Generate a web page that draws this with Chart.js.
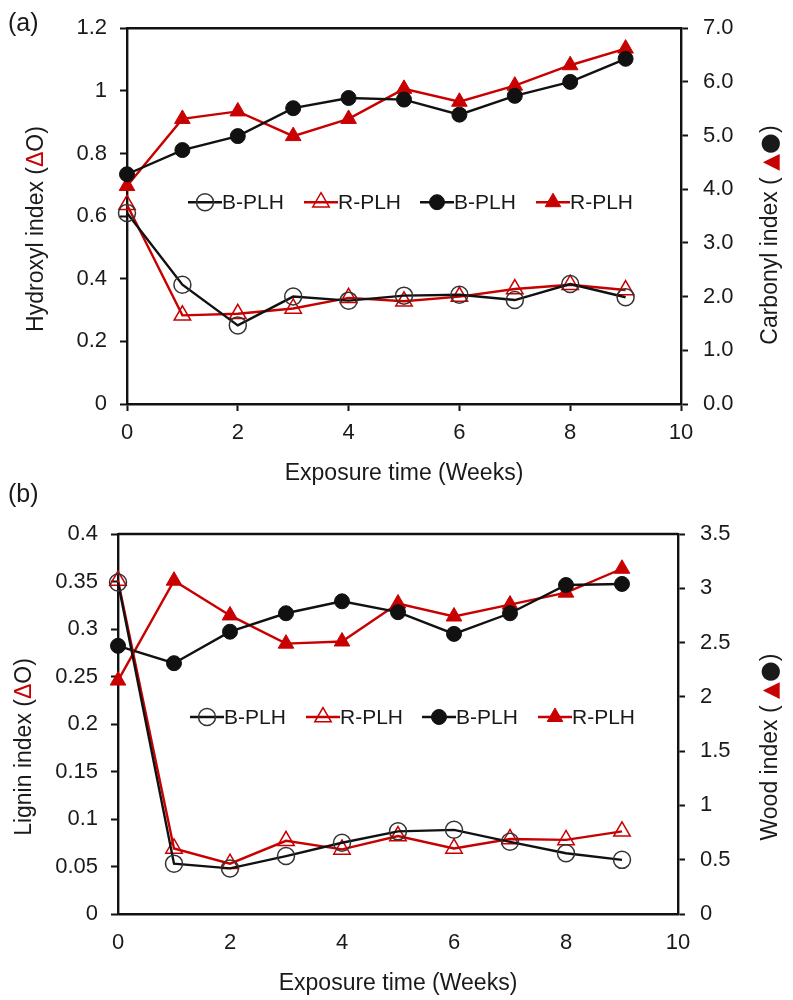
<!DOCTYPE html>
<html>
<head>
<meta charset="utf-8">
<script src="https://cdn.jsdelivr.net/npm/chart.js@4.4.1/dist/chart.umd.min.js"></script>
<style>
    body { margin: 0; background: #fff; width: 793px; height: 1000px; position: relative; overflow: hidden;
           font-family: "Liberation Sans", Arial, sans-serif; }
    .panel { position: absolute; left: 0; width: 793px; }
    .tag { position: absolute; left: 8px; font-size: 25px; line-height: 1; color: #1a1a1a; }
</style>
</head>
<body>
<div class="panel" style="top:0;height:490px"><canvas id="chart-a" width="793" height="490"></canvas></div>
<div class="panel" style="top:490px;height:510px"><canvas id="chart-b" width="793" height="510"></canvas></div>
<div class="tag" style="top:10px">(a)</div>
<div class="tag" style="top:481px">(b)</div>

<script>
// =============================
// DATA
// =============================
const weeks = [0, 1, 2, 3, 4, 5, 6, 7, 8, 9];
const weekTicks = ['0', '2', '4', '6', '8', '10'];

// panel (a)
const hydroxylB = [0.61, 0.381, 0.251, 0.343, 0.330, 0.346, 0.349, 0.332, 0.383, 0.341];
const hydroxylR = [0.636, 0.283, 0.288, 0.305, 0.339, 0.328, 0.343, 0.367, 0.381, 0.364];
const carbonylB = [4.28, 4.73, 4.99, 5.51, 5.70, 5.67, 5.39, 5.74, 6.00, 6.43];
const carbonylR = [4.06, 5.31, 5.45, 4.99, 5.31, 5.87, 5.63, 5.93, 6.31, 6.62];
const hydroxylTicks = ['0', '0.2', '0.4', '0.6', '0.8', '1', '1.2'];
const carbonylTicks = ['0.0', '1.0', '2.0', '3.0', '4.0', '5.0', '6.0', '7.0'];

// panel (b)
const ligninB = [0.349, 0.053, 0.048, 0.061, 0.075, 0.087, 0.0886, 0.076, 0.064, 0.057];
const ligninR = [0.351, 0.069, 0.053, 0.077, 0.068, 0.082, 0.069, 0.079, 0.078, 0.087];
const woodB = [2.47, 2.31, 2.60, 2.77, 2.88, 2.78, 2.58, 2.77, 3.03, 3.04];
const woodR = [2.15, 3.07, 2.75, 2.49, 2.51, 2.86, 2.74, 2.85, 2.96, 3.18];
const ligninTicks = ['0', '0.05', '0.1', '0.15', '0.2', '0.25', '0.3', '0.35', '0.4'];
const woodTicks = ['0', '0.5', '1', '1.5', '2', '2.5', '3', '3.5'];

const seriesLabels = ['B-PLH', 'R-PLH', 'B-PLH', 'R-PLH'];

const RED = '#c80000';
const BLACK = '#111';
const TEXT = '#1a1a1a';
const FONT = '"Liberation Sans", Arial, sans-serif';
const SYMBOL_FONT = '"DejaVu Sans", sans-serif';

Chart.defaults.font.family = FONT;

function pts(values) {
    return weeks.map((w, i) => ({ x: w, y: values[i] }));
}

function series(label, values, axis, color, style, filled, radius, markerColor) {
    return {
        label: label,
        data: pts(values),
        yAxisID: axis,
        borderColor: color,
        borderWidth: 2.4,
        pointStyle: style,
        pointRadius: radius,
        pointBorderColor: markerColor || color,
        pointBackgroundColor: filled ? color : 'rgba(0,0,0,0)',
        pointBorderWidth: filled ? 1 : 1.5,
        tension: 0,
        fill: false,
        clip: false
    };
}

function yScale(labels, position, width, padding) {
    return {
        type: 'linear',
        position: position,
        min: parseFloat(labels[0]),
        max: parseFloat(labels[labels.length - 1]),
        afterBuildTicks: s => { s.ticks = labels.map(l => ({ value: parseFloat(l) })); },
        afterFit: s => { s.width = width; },
        border: { display: true, color: BLACK, width: 2.4 },
        grid: { drawOnChartArea: false, drawTicks: true, tickLength: 7, tickWidth: 2, tickColor: BLACK },
        ticks: { color: TEXT, font: { size: 22 }, padding: padding, callback: (v, i) => labels[i] }
    };
}

function xScale(height, showTicks) {
    return {
        type: 'linear',
        position: 'bottom',
        min: 0,
        max: 10,
        afterBuildTicks: s => { s.ticks = weekTicks.map(l => ({ value: parseFloat(l) })); },
        afterFit: s => { s.height = height; },
        border: { display: true, color: BLACK, width: 2.4 },
        grid: { drawOnChartArea: false, drawTicks: true, tickLength: 7, tickWidth: 2,
                tickColor: showTicks ? BLACK : 'rgba(0,0,0,0)' },
        ticks: { color: TEXT, font: { size: 22 }, padding: 9, maxRotation: 0, callback: (v, i) => weekTicks[i] },
        title: { display: true, text: 'Exposure time (Weeks)', color: TEXT, font: { size: 23 }, padding: { top: 0, bottom: 3 } }
    };
}

// top frame line, multi-coloured y titles and the in-plot legend
function drawMarker(ctx, ds, x, y) {
    const r = ds.pointRadius;
    ctx.lineWidth = ds.pointBorderWidth;
    ctx.strokeStyle = ds.pointBorderColor;
    ctx.fillStyle = ds.pointBackgroundColor;
    ctx.beginPath();
    if (ds.pointStyle === 'triangle') {
        for (let k = 0; k < 3; k++) {
            const a = k * 2 * Math.PI / 3;
            const px = x + Math.sin(a) * r, py = y - Math.cos(a) * r;
            k === 0 ? ctx.moveTo(px, py) : ctx.lineTo(px, py);
        }
        ctx.closePath();
    } else {
        ctx.arc(x, y, r, 0, Math.PI * 2);
    }
    ctx.fill();
    ctx.stroke();
}

function drawRotated(ctx, parts, cx, cy) {
    ctx.save();
    ctx.translate(cx, cy);
    ctx.rotate(-Math.PI / 2);
    ctx.textBaseline = 'middle';
    ctx.textAlign = 'left';
    const fontOf = p => p[2] ? p[2] + 'px ' + SYMBOL_FONT : '23px ' + FONT;
    let total = 0;
    parts.forEach(p => { ctx.font = fontOf(p); total += ctx.measureText(p[0]).width; });
    let x = -total / 2;
    parts.forEach(p => {
        ctx.font = fontOf(p);
        ctx.fillStyle = p[1];
        ctx.fillText(p[0], x, 0);
        x += ctx.measureText(p[0]).width;
    });
    ctx.restore();
}

const decorPlugin = {
    id: 'decor',
    afterDraw(chart, args, opts) {
        const ctx = chart.ctx;
        const a = chart.chartArea;
        ctx.save();
        ctx.strokeStyle = BLACK;
        ctx.lineWidth = 2.4;
        ctx.beginPath();
        ctx.moveTo(a.left, a.top);
        ctx.lineTo(a.right, a.top);
        ctx.stroke();

        opts.titles.forEach(t => drawRotated(ctx, t.parts, t.x, t.y));

        const lg = opts.legend;
        chart.data.datasets.forEach((ds, i) => {
            const x0 = a.left + lg.left + i * lg.pitch;
            const y = a.top + lg.top;
            ctx.strokeStyle = ds.borderColor;
            ctx.lineWidth = ds.borderWidth;
            ctx.beginPath();
            ctx.moveTo(x0, y);
            ctx.lineTo(x0 + 34, y);
            ctx.stroke();
            drawMarker(ctx, ds, x0 + 17, y);
            ctx.fillStyle = TEXT;
            ctx.font = '21px ' + FONT;
            ctx.textBaseline = 'middle';
            ctx.textAlign = 'left';
            ctx.fillText(ds.label, x0 + 34, y + 1);
        });
        ctx.restore();
    }
};

function makeChart(id, cfg) {
    const ctx = document.getElementById(id).getContext('2d');
    return new Chart(ctx, {
        type: 'line',
        data: {
            datasets: [
                series(seriesLabels[0], cfg.leftB, 'y', BLACK, 'circle', false, 8.5, '#333'),
                series(seriesLabels[1], cfg.leftR, 'y', RED, 'triangle', false, 9.5),
                series(seriesLabels[2], cfg.rightB, 'y1', BLACK, 'circle', true, 7.5),
                series(seriesLabels[3], cfg.rightR, 'y1', RED, 'triangle', true, 9)
            ]
        },
        options: {
            responsive: false,
            animation: false,
            events: [],
            layout: { padding: { top: cfg.top, left: 0, right: 0, bottom: 0 } },
            scales: {
                x: xScale(cfg.xHeight, cfg.xTicks),
                y: yScale(cfg.leftTicks, 'left', cfg.leftW, 13),
                y1: yScale(cfg.rightTicks, 'right', cfg.rightW, 15)
            },
            plugins: {
                legend: { display: false },
                tooltip: { enabled: false },
                decor: { titles: cfg.titles, legend: cfg.legend }
            }
        },
        plugins: [decorPlugin]
    });
}

makeChart('chart-a', {
    leftB: hydroxylB, leftR: hydroxylR, rightB: carbonylB, rightR: carbonylR,
    leftTicks: hydroxylTicks, rightTicks: carbonylTicks,
    top: 26, xHeight: 86, leftW: 127, rightW: 112, xTicks: true,
    titles: [
        { x: 37, y: 229, parts: [['Hydroxyl index (', TEXT], ['\u0394', RED], ['O', TEXT], [')', TEXT]] },
        { x: 771, y: 235, parts: [['Carbonyl index ( ', TEXT], ['\u25B2', RED, 22], ['\u25CF', TEXT, 24], [')', TEXT]] }
    ],
    legend: { left: 61, top: 174, pitch: 116 }
});

makeChart('chart-b', {
    leftB: ligninB, leftR: ligninR, rightB: woodB, rightR: woodR,
    leftTicks: ligninTicks, rightTicks: woodTicks,
    top: 44, xHeight: 86, leftW: 118, rightW: 115, xTicks: false,
    titles: [
        { x: 25, y: 257, parts: [['Lignin index (', TEXT], ['\u0394', RED], ['O', TEXT], [')', TEXT]] },
        { x: 771, y: 257, parts: [['Wood index ( ', TEXT], ['\u25B2', RED, 22], ['\u25CF', TEXT, 24], [')', TEXT]] }
    ],
    legend: { left: 72, top: 183, pitch: 116 }
});
</script>
</body>
</html>
